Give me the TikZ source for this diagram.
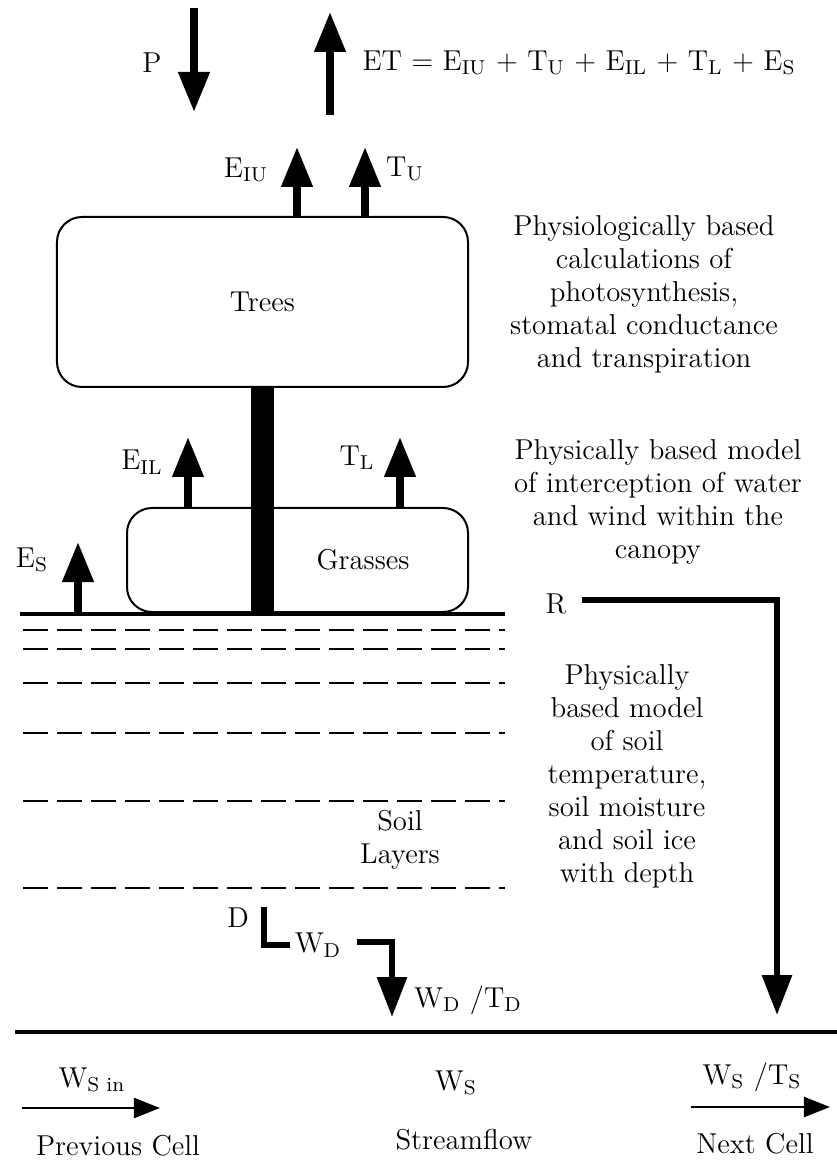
\documentclass[tikz,border=0pt]{standalone}
\usepackage{fontspec}
\usepackage{tikz}
\usetikzlibrary{arrows.meta, positioning}

\begin{document}
\begin{tikzpicture}[
        x=0.4pt, y=-0.4pt,
        txt/.style={font=\fontsize{11.5}{13.2}\selectfont, align=center, inner sep=0pt},
        box/.style={draw, line width=0.8pt, rounded corners=10pt, inner sep=0pt, font=\fontsize{11.5}{13.2}\selectfont},
        bigarr/.style={line width=3pt, -{Triangle[length=16pt,width=12pt]}},
        flow/.style={line width=2.4pt, -{Triangle[length=16pt,width=11.6pt]}},
        thinarr/.style={line width=1.1pt, -{Triangle[length=10.5pt,width=8pt]}},
        soil/.style={line width=0.6pt, dash pattern=on 10pt off 3.6pt},
        ground/.style={line width=1.4pt}
    ]
    \useasboundingbox (0,0) rectangle (837,1163);

    % Precipitation and evapotranspiration
    \coordinate (ptop) at (194,8);
    \coordinate (pend) at (194,112);
    \coordinate (etbot) at (330,115);
    \coordinate (ettip) at (330,12);
    \draw[bigarr] (ptop) -- (pend);
    \draw[bigarr] (etbot) -- (ettip);
    \node[txt] (p) at (152,63) {P};
    \node[txt, anchor=west] (et) at (362,63) {ET = E\textsubscript{IU} + T\textsubscript{U} + E\textsubscript{IL} + T\textsubscript{L} + E\textsubscript{S}};

    % Trees
    \node[box, minimum width=164.4pt, minimum height=68pt] (trees) at (262.5,302) {Trees};
    \coordinate (eiu) at (297,147);
    \coordinate (tu) at (365,147);
    \draw[bigarr] (eiu |- trees.north) -- (eiu);
    \draw[bigarr] (tu |- trees.north) -- (tu);
    \node[txt] (eiulbl) at (246,170) {E\textsubscript{IU}};
    \node[txt] (tulbl) at (405,169) {T\textsubscript{U}};

    % Grasses
    \node[box, minimum width=136.4pt, minimum height=41.6pt] (grass) at (297.5,560) {};
    \node[txt] (grasslbl) at (363,560) {Grasses};
    \coordinate (eil) at (188,437);
    \coordinate (tl) at (400,437);
    \draw[bigarr] (eil |- grass.north) -- (eil);
    \draw[bigarr] (tl |- grass.north) -- (tl);
    \node[txt] (eillbl) at (142,462) {E\textsubscript{IL}};
    \node[txt] (tllbl) at (357,458) {T\textsubscript{L}};

    % Ground surface and trunk
    \coordinate (gw) at (20,614);
    \coordinate (ge) at (505,614);
    \draw[ground] (gw) -- (ge);
    \draw[line width=9.2pt] (trees.south) -- (trees.south |- gw);
    \coordinate (es) at (78,542);
    \draw[bigarr] (es |- gw) -- (es);
    \node[txt] (eslbl) at (32,560) {E\textsubscript{S}};

    % Soil layers
    \foreach \y in {630,649,683,733,801,888}
        \draw[soil] (23,\y) -- (505,\y);
    \node[txt] (soillbl) at (400,840) {Soil\\Layers};

    % Model descriptions
    \node[txt] (canopytxt) at (644,294) {Physiologically based\\calculations of\\photosynthesis,\\stomatal conductance\\and transpiration};
    \node[txt] (intertxt) at (658,502) {Physically based model\\of interception of water\\and wind within the\\canopy};
    \node[txt] (soiltxt) at (627,776) {Physically\\based model\\of soil\\temperature,\\soil moisture\\and soil ice\\with depth};

    % Runoff
    \node[txt] (r) at (556,604) {R};
    \coordinate (rstart) at (582,600);
    \coordinate (rcorner) at (777,600);
    \coordinate (rend) at (777,1015);
    \draw[flow] (rstart) -- (rcorner) -- (rend);

    % Drainage
    \node[txt] (d) at (238,918) {D};
    \coordinate (dtop) at (264,907);
    \coordinate (dcorner) at (264,945);
    \coordinate (dend) at (290,945);
    \draw[line width=2.2pt] (dtop) -- (dcorner) -- (dend);
    \node[txt] (wdlbl) at (318,945) {W\textsubscript{D}};
    \coordinate (wdstart) at (357,942);
    \coordinate (wdcorner) at (392,942);
    \coordinate (wdend) at (392,1017);
    \draw[flow] (wdstart) -- (wdcorner) -- (wdend);
    \node[txt] (wdtd) at (468,1000) {W\textsubscript{D} /T\textsubscript{D}};

    % Stream
    \coordinate (sw) at (15,1032);
    \coordinate (se) at (837,1032);
    \draw[ground] (sw) -- (se);
    \coordinate (inw) at (22,1108);
    \coordinate (ine) at (160,1108);
    \draw[thinarr] (inw) -- (ine);
    \node[txt] (wsin) at (92,1080) {W\textsubscript{S in}};
    \node[txt] (prev) at (118,1146) {Previous Cell};
    \node[txt] (ws) at (456,1083) {W\textsubscript{S}};
    \node[txt] (stream) at (464,1140) {Streamflow};
    \coordinate (outw) at (691,1107);
    \coordinate (oute) at (830,1107);
    \draw[thinarr] (outw) -- (oute);
    \node[txt] (wsts) at (752,1077) {W\textsubscript{S} /T\textsubscript{S}};
    \node[txt] (next) at (755,1144) {Next Cell};

\end{tikzpicture}
\end{document}
